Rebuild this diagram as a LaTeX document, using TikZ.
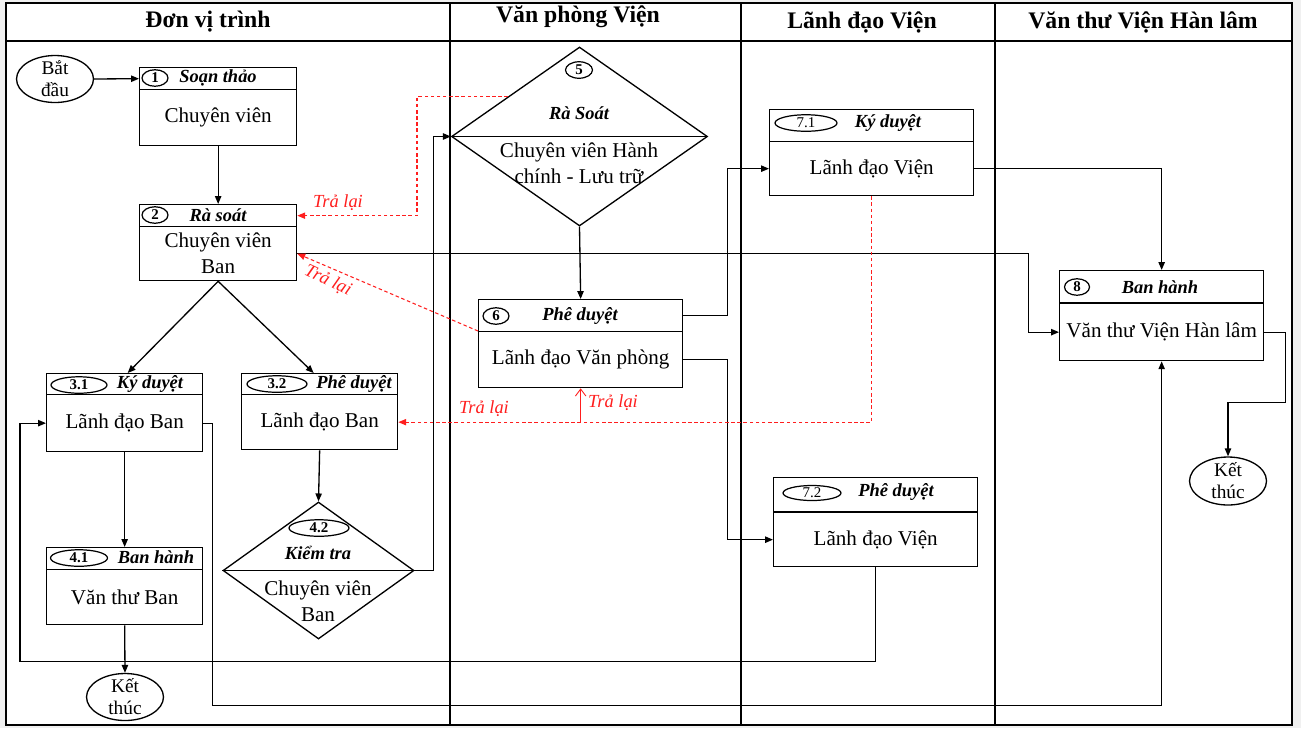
\documentclass[tikz,border=0pt]{standalone}
\usepackage{fontspec}
\setmainfont{Liberation Serif}
\usetikzlibrary{arrows.meta,shapes.geometric,calc}
\definecolor{retred}{RGB}{255,30,30}
\newcommand\fbody{\fontsize{12}{14.7}\selectfont}
\newcommand\flane{\fontsize{13.5}{16}\selectfont\bfseries}
\newcommand\fstep{\fontsize{10.5}{12}\selectfont\bfseries\itshape}
\newcommand\fnum{\fontsize{8.5}{10}\selectfont\bfseries}
\newcommand\fnumr{\fontsize{8.5}{10}\selectfont}
\newcommand\fred{\fontsize{10.5}{12}\selectfont\itshape}
\newcommand\fterm{\fontsize{11}{12.5}\selectfont}
% name, x1, x2, ytop, ymid, ybot, body
\newcommand\stepbox[7]{%
  \node[box, minimum width={(#3-#2)*0.02cm}, minimum height={(#5-#4)*0.02cm}] (h#1) at (#2,#4) {};
  \node[box, minimum width={(#3-#2)*0.02cm}, minimum height={(#6-#5)*0.02cm}, font=\fbody, align=center] (b#1) at (#2,#5) {#7};
}
\begin{document}
\begin{tikzpicture}[x=0.02cm,y=-0.02cm,
  box/.style={draw, line width=0.75pt, inner sep=0pt, anchor=north west},
  numell/.style={draw, ellipse, line width=0.7pt, inner sep=0pt, minimum height=0.33cm},
  term/.style={draw, ellipse, line width=0.75pt, inner sep=0pt, minimum width=1.54cm, minimum height=0.94cm},
  diam/.style={draw, diamond, line width=0.75pt, inner sep=0pt},
  conn/.style={draw, line width=0.75pt, -{Triangle[length=4.5pt,width=3.6pt]}},
  redline/.style={draw=retred, line width=0.6pt, dash pattern=on 2pt off 1.5pt, -{Triangle[length=4.5pt,width=3.6pt]}},
  redlab/.style={font=\fred, text=retred, inner sep=1pt},
  steplab/.style={font=\fstep, inner sep=0pt},
  lanelab/.style={font=\flane, inner sep=0pt}
]
\useasboundingbox (0,0) rectangle (1301,728);
\fill[gray!12] (0,0) rectangle (1301,728);
\draw[line width=1pt, fill=white] (6,3) rectangle (1292,725);
\draw[line width=0.8pt] (6,41) -- (1292,41);
\draw[line width=0.8pt] (450,3) -- (450,725);
\draw[line width=0.8pt] (741,3) -- (741,725);
\draw[line width=0.8pt] (995,3) -- (995,725);

% lane titles
\node[lanelab] (L1) at (208,22) {Đơn vị trình};
\node[lanelab] (L2) at (578,17) {Văn phòng Viện};
\node[lanelab] (L3) at (862,22) {Lãnh đạo Viện};
\node[lanelab] (L4) at (1143,22) {Văn thư Viện Hàn lâm};

% terminators
\node[term] (start) at (55,79) {};
\node[font=\fterm, align=center, inner sep=0pt] (startT) at (start) {Bắt\\đầu};
\node[term] (end1) at (125,697) {};
\node[font=\fterm, align=center, inner sep=0pt] (end1T) at (end1) {Kết\\thúc};
\node[term, minimum height=0.96cm] (end2) at (1228,481) {};
\node[font=\fterm, align=center, inner sep=0pt] (end2T) at (end2) {Kết\\thúc};

% step boxes
\stepbox{1}{139}{296}{67}{89}{145}{Chuyên viên}
\stepbox{2}{139}{296}{204}{226}{280}{Chuyên viên\\Ban}
\stepbox{31}{46}{202}{373}{394}{451}{Lãnh đạo Ban}
\stepbox{32}{241}{397}{373}{394}{449}{Lãnh đạo Ban}
\stepbox{41}{46}{202}{547}{569}{624}{Văn thư Ban}
\stepbox{6}{478}{682}{299}{331}{387}{Lãnh đạo Văn phòng}
\stepbox{71}{769}{973}{109}{141}{195}{Lãnh đạo Viện}
\stepbox{72}{773}{977}{477}{512}{566}{Lãnh đạo Viện}
\stepbox{8}{1059}{1263}{270}{303}{360}{Văn thư Viện Hàn lâm}
\draw[line width=1.5pt] (b72.north west) -- (b72.north east);
\draw[line width=1.5pt] (b8.north west) -- (b8.north east);

% diamonds
\node[diam, minimum width=5.12cm, minimum height=3.58cm] (d5) at (579.5,136.5) {};
\draw[line width=0.6pt] (d5.west) -- (d5.east);
\node[diam, minimum width=3.82cm, minimum height=2.74cm] (d42) at (318.5,570.5) {};
\draw[line width=0.75pt] (d42.west) -- (d42.east);

% number marks
\node[numell, minimum width=0.52cm] (n1) at (155,78) {};
\node[font=\fnum, inner sep=0pt] (n1t) at (n1) {1};
\node[numell, minimum width=0.52cm] (n2) at (155,215) {};
\node[font=\fnum, inner sep=0pt] (n2t) at (n2) {2};
\node[numell, minimum width=1.12cm] (n31) at (79,385) {};
\node[font=\fnum, inner sep=0pt] (n31t) at (n31) {3.1};
\node[numell, minimum width=1.2cm] (n32) at (277,384) {};
\node[font=\fnum, inner sep=0pt] (n32t) at (n32) {3.2};
\node[numell, minimum width=1.14cm] (n41) at (79,558) {};
\node[font=\fnum, inner sep=0pt] (n41t) at (n41) {4.1};
\node[numell, minimum width=1.2cm] (n42) at (319,528) {};
\node[font=\fnum, inner sep=0pt] (n42t) at (n42) {4.2};
\node[numell, minimum width=0.54cm] (n5) at (579,70) {};
\node[font=\fnum, inner sep=0pt] (n5t) at (n5) {5};
\node[numell, minimum width=0.52cm] (n6) at (496,316) {};
\node[font=\fnum, inner sep=0pt] (n6t) at (n6) {6};
\node[numell, minimum width=1.24cm] (n71) at (806,123) {};
\node[font=\fnumr, inner sep=0pt] (n71t) at (n71) {7.1};
\node[numell, minimum width=1.16cm, minimum height=0.3cm] (n72) at (812,493) {};
\node[font=\fnumr, inner sep=0pt] (n72t) at (n72) {7.2};
\node[numell, minimum width=0.5cm] (n8) at (1077,287) {};
\node[font=\fnum, inner sep=0pt] (n8t) at (n8) {8};

% step titles
\node[steplab] (s1) at (218,78) {Soạn thảo};
\node[steplab] (s2) at (218,215) {Rà soát};
\node[steplab] (s31) at (150,384) {Ký duyệt};
\node[steplab] (s32) at (354,384) {Phê duyệt};
\node[steplab] (s41) at (156,557) {Ban hành};
\node[steplab] (s42) at (318,553) {Kiểm tra};
\node[steplab] (s5) at (579,113) {Rà Soát};
\node[steplab] (s6) at (580,316) {Phê duyệt};
\node[steplab] (s71) at (888,123) {Ký duyệt};
\node[steplab] (s72) at (896,492) {Phê duyệt};
\node[steplab] (s8) at (1160,287) {Ban hành};

% diamond texts
\node[font=\fbody, align=center, inner sep=0pt] (t5) at (579,163) {Chuyên viên Hành\\chính - Lưu trữ};
\node[font=\fbody, align=center, inner sep=0pt] (t42) at (318,601) {Chuyên viên\\Ban};

% black connectors
\draw[conn] (start.east) -- (h1.west);
\draw[conn] (b1.south) -- (h2.north);
\draw[conn] (b2.south) -- ($(h31.north)+(3,0)$);
\draw[conn] (b2.south) -- ($(h32.north)+(-6,0)$);
\draw[conn] (b31.south) -- (h41.north);
\draw[conn] (b41.south) -- (end1.north);
\draw[conn] (b32.south) -- (d42.north);
\draw[conn] (d42.east) -- ++(19,0) |- (d5.west);
\draw[conn] (d5.south) -- (h6.north);
\draw[conn] (h6.east) -- ++(44,0) |- (b71.west);
\draw[conn] (b6.east) -- ++(44,0) |- (b72.west);
\draw[conn] (b71.east) -| (h8.north);
\draw[conn] (b2.east) -- ++(731,0) |- (b8.west);
\draw[conn] (b8.east) -- ++(21,0) |- ($(end2.north)+(0,-54)$) -- (end2.north);
\draw[conn] (b72.south) -- ++(0,94) -| ($(b31.west)+(-26,0)$) -- (b31.west);
\draw[conn] (b31.east) -- ++(9,0) -- ++(0,282.5) -| (b8.south);

% red return connectors
\coordinate (r5) at ($(d5.west)!0.444!(d5.north)$);
\draw[redline] (r5) -- ++(-91,0) |- (h2.east);
\node[redlab] (rl1) at (338,203) {Trả lại};
\draw[redline] (b6.north west) -- (b2.east);
\node[redlab, rotate=-25] (rl2) at (328,281) {Trả lại};
\draw[redline] (b71.south) |- (b32.east);
\node[redlab] (rl3) at (484,409) {Trả lại};
\draw[draw=retred, line width=0.5pt, -{Straight Barb[length=4pt,width=6pt]}] (b6.south |- b32.east) -- (b6.south);
\node[redlab] (rl4) at (613,403) {Trả lại};
\end{tikzpicture}
\end{document}
